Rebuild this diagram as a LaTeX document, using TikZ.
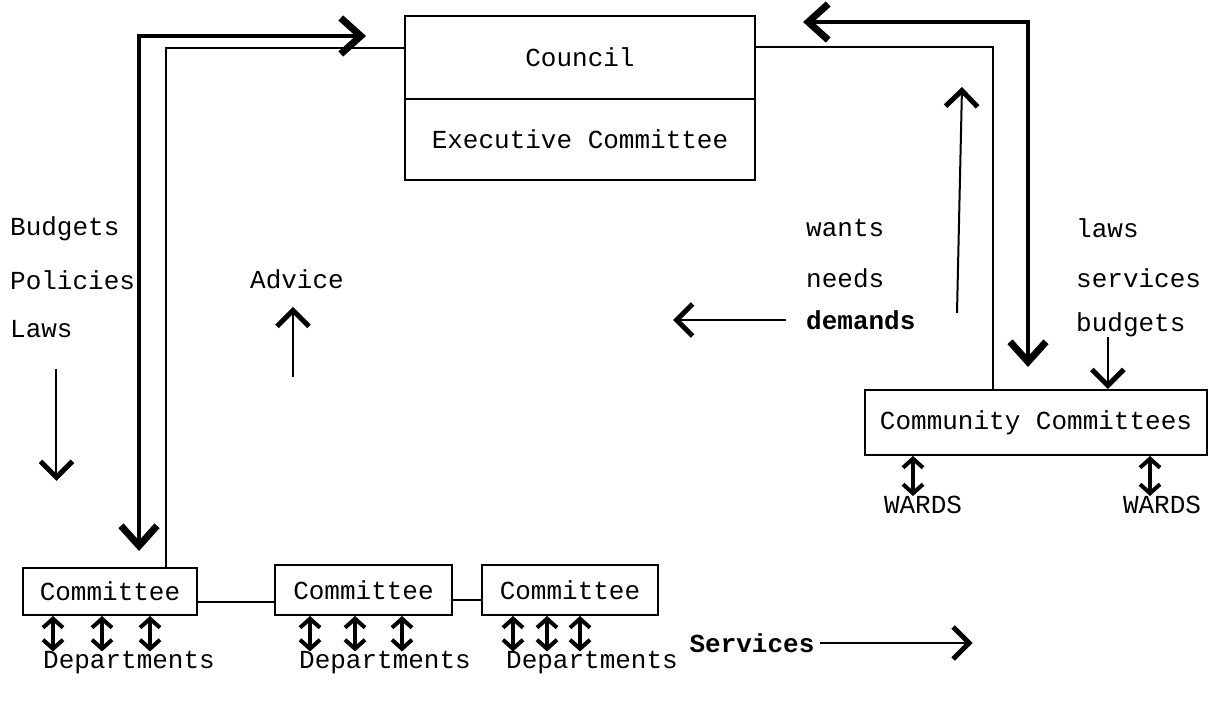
\documentclass[tikz,border=0pt]{standalone}
\usepackage{fontspec}
\setmonofont{Liberation Mono}
\usetikzlibrary{arrows.meta, positioning}
\tikzset{
    box/.style={
        draw,
        line width=2pt,
        inner sep=0pt,
        font=\ttfamily\fontsize{26}{30}\selectfont
    },
    lbl/.style={inner sep=0pt, font=\ttfamily\fontsize{26}{30}\selectfont},
    strong/.style={lbl, font=\ttfamily\bfseries\fontsize{26}{30}\selectfont},
    rule/.style={line width=2pt},
    heavy/.style={
        line width=4.5pt,
        {Straight Barb[length=20pt,width=36pt,line width=7pt]}-{Straight Barb[length=20pt,width=36pt,line width=7pt]}
    },
    mid/.style={line width=2pt, -{Straight Barb[length=16pt,width=32pt,line width=5pt]}},
    dbl/.style={
        line width=3.5pt,
        {Straight Barb[length=9pt,width=20pt,line width=4pt]}-{Straight Barb[length=9pt,width=20pt,line width=4pt]}
    }
}

\begin{document}
\begin{tikzpicture}[x=1pt, y=-1pt]
\useasboundingbox (0,0) rectangle (1211,711);

\node[box, minimum width=350pt, minimum height=83pt] (council) at (580,57.5) {Council};
\node[box, minimum width=350pt, minimum height=81pt, below=-2pt of council] (exec) {Executive Committee};
\node[box, minimum width=342pt, minimum height=65pt] (comm) at (1036,422.5) {Community Committees};
\node[box, minimum width=174pt, minimum height=47pt] (com1) at (110,591.5) {Committee};
\node[box, minimum width=177pt, minimum height=50pt] (com2) at (363.5,590) {Committee};
\node[box, minimum width=176pt, minimum height=50pt] (com3) at (570,590) {Committee};

\node[lbl] (dep1) at (129,663) {Departments};
\node[lbl] (dep2) at (385,663) {Departments};
\node[lbl] (dep3) at (592,663) {Departments};
\node[lbl] (ward1) at (923,505) {WARDS};
\node[lbl] (ward2) at (1162,505) {WARDS};

\node[lbl, anchor=west] (budgetsL) at (10,229) {Budgets};
\node[lbl, anchor=west] (policies) at (10,280) {Policies};
\node[lbl, anchor=west] (laws) at (10,329) {Laws};
\node[lbl] (advice) at (297,279) {Advice};

\node[lbl, anchor=west] (wants) at (806,228) {wants};
\node[lbl, anchor=west] (needs) at (806,278) {needs};
\node[strong, anchor=west] (demands) at (806,320) {demands};
\node[lbl, anchor=west] (lawsR) at (1076,228) {laws};
\node[lbl, anchor=west] (services) at (1076,278) {services};
\node[lbl, anchor=west] (budgets) at (1076,325) {budgets};
\node[strong] (svc) at (752,643) {Services};

% left channel
\coordinate (polin) at (366,36);
\draw[heavy] (polin) -| ([xshift=29pt,yshift=16pt]com1.north);
\draw[rule] ([xshift=56pt]com1.north) |- ([yshift=9.5pt]council.west);

% right channel
\coordinate (reply) at (803,22);
\draw[rule] ([xshift=-43pt]comm.north) |- ([yshift=10pt]council.east);
\draw[heavy] (reply) -| ([xshift=-8pt,yshift=22pt]comm.north);

\coordinate (wantsfoot) at (957,313);
\coordinate (wantshead) at (962,87);
\draw[mid] (wantsfoot) -- (wantshead);
\coordinate (demtip) at (673,320);
\draw[mid] ([xshift=-20pt]demands.west) -- (demtip);
\draw[mid] ([xshift=-23pt]budgets.south) -- ([xshift=-23pt]budgets.south |- comm.north);

\draw[mid] ([xshift=15pt,yshift=-31pt]laws.south) -- ++(0,112);
\draw[mid] ([xshift=-4pt,yshift=-88pt]advice.south) -- ([xshift=-4pt,yshift=-18pt]advice.south);
\draw[mid] ([xshift=5pt]svc.east) -- ++(153,0);

% committees
\draw[rule] ([yshift=-10pt]com1.east) -- ([yshift=-10pt]com1.east -| com2.west);
\draw[rule] ([yshift=-10pt]com2.east) -- ([yshift=-10pt]com2.east -| com3.west);
\foreach \s in {-57,-8,40}
    \draw[dbl] ([xshift=\s pt]com1.south) -- ([xshift=\s pt]com1.south |- dep1.north);
\foreach \s in {-53.5,-8.5,38.5}
    \draw[dbl] ([xshift=\s pt]com2.south) -- ([xshift=\s pt]com2.south |- dep2.north);
\foreach \s in {-57,-23,10}
    \draw[dbl] ([xshift=\s pt]com3.south) -- ([xshift=\s pt]com3.south |- dep3.north);

\draw[dbl] ([xshift=-123pt]comm.south) -- ([xshift=-123pt]comm.south |- ward1.north);
\draw[dbl] ([xshift=114pt]comm.south) -- ([xshift=114pt]comm.south |- ward2.north);
\end{tikzpicture}
\end{document}
